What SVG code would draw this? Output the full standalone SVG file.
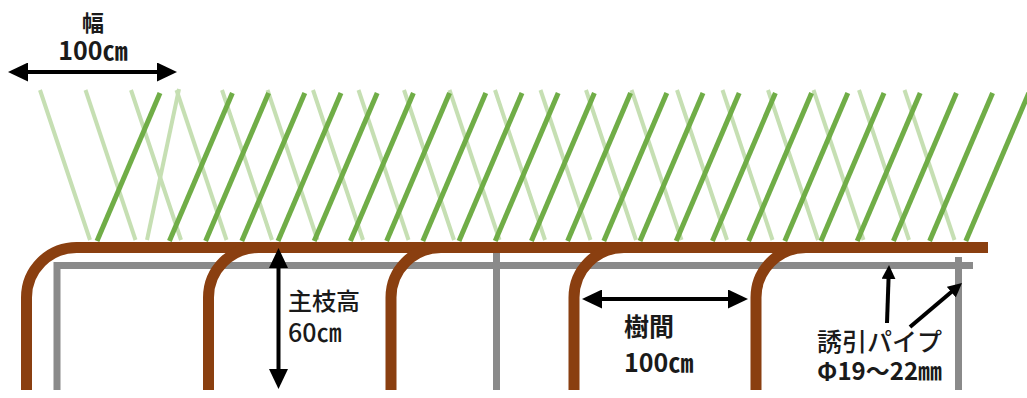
<svg xmlns="http://www.w3.org/2000/svg" width="1027" height="398" viewBox="0 0 1027 398">
  <style>
    .shoot-old { stroke: #c6dfb3; stroke-width: 4; fill: none; }
    .shoot { stroke: #70ad47; stroke-width: 5; fill: none; }
    .pipe { stroke: #8a8a8a; stroke-width: 7; fill: none; }
    .branch { stroke: #8a3f10; stroke-width: 11; fill: none; }
    .dim { stroke: #000; stroke-width: 4; fill: none; }
    .lbl { font-family: "Noto Sans CJK JP", "Noto Sans", sans-serif; fill: #1a1a1a; }
    .m { font-weight: 500; }
    .b { font-weight: bold; }
  </style>
  <defs>
    <marker id="head" viewBox="0 0 20 19" refX="2" refY="9.5" markerWidth="20" markerHeight="19" markerUnits="userSpaceOnUse" orient="auto-start-reverse">
      <path d="M0,0 L20,9.5 L0,19 Z" fill="#000"/>
    </marker>
    <marker id="head-s" viewBox="0 0 14 14" refX="2" refY="7" markerWidth="14" markerHeight="14" markerUnits="userSpaceOnUse" orient="auto">
      <path d="M0,0 L14,7 L0,14 Z" fill="#000"/>
    </marker>
  </defs>
  <rect width="1027" height="398" fill="#fff"/>

  <!-- last season's shoots (pale, leaning right) -->
  <g id="old-shoots" class="shoot-old">
    <line x1="40" y1="90" x2="90" y2="240"/>
    <line x1="85.5" y1="90" x2="135.5" y2="240"/>
    <line x1="131" y1="90" x2="181" y2="240"/>
    <line x1="179" y1="89" x2="147" y2="240"/>
    <line x1="176.5" y1="90" x2="226.5" y2="240"/>
    <line x1="222" y1="90" x2="272" y2="240"/>
    <line x1="267.5" y1="90" x2="317.5" y2="240"/>
    <line x1="313" y1="90" x2="363" y2="240"/>
    <line x1="358.5" y1="90" x2="408.5" y2="240"/>
    <line x1="404" y1="90" x2="454" y2="240"/>
    <line x1="449.5" y1="90" x2="499.5" y2="240"/>
    <line x1="495" y1="90" x2="545" y2="240"/>
    <line x1="540.5" y1="90" x2="590.5" y2="240"/>
    <line x1="586" y1="90" x2="636" y2="240"/>
    <line x1="631.5" y1="90" x2="681.5" y2="240"/>
    <line x1="677" y1="90" x2="727" y2="240"/>
    <line x1="722.5" y1="90" x2="772.5" y2="240"/>
    <line x1="768" y1="90" x2="818" y2="240"/>
    <line x1="813.5" y1="90" x2="863.5" y2="240"/>
    <line x1="859" y1="90" x2="909" y2="240"/>
    <line x1="904.5" y1="90" x2="954.5" y2="240"/>
  </g>

  <!-- trained shoots (leaning left) -->
  <g id="shoots" class="shoot">
    <line x1="160" y1="93" x2="97" y2="241"/>
    <line x1="232.4" y1="93" x2="169.4" y2="241"/>
    <line x1="268.6" y1="93" x2="205.6" y2="241"/>
    <line x1="304.8" y1="93" x2="241.8" y2="241"/>
    <line x1="341" y1="93" x2="278" y2="241"/>
    <line x1="377.2" y1="93" x2="314.2" y2="241"/>
    <line x1="413.4" y1="93" x2="350.4" y2="241"/>
    <line x1="449.6" y1="93" x2="386.6" y2="241"/>
    <line x1="485.8" y1="93" x2="422.8" y2="241"/>
    <line x1="522" y1="93" x2="459" y2="241"/>
    <line x1="558.2" y1="93" x2="495.2" y2="241"/>
    <line x1="594.4" y1="93" x2="531.4" y2="241"/>
    <line x1="630.6" y1="93" x2="567.6" y2="241"/>
    <line x1="666.8" y1="93" x2="603.8" y2="241"/>
    <line x1="703" y1="93" x2="640" y2="241"/>
    <line x1="739.2" y1="93" x2="676.2" y2="241"/>
    <line x1="775.4" y1="93" x2="712.4" y2="241"/>
    <line x1="811.6" y1="93" x2="748.6" y2="241"/>
    <line x1="847.8" y1="93" x2="784.8" y2="241"/>
    <line x1="884" y1="93" x2="821" y2="241"/>
    <line x1="920.2" y1="93" x2="857.2" y2="241"/>
    <line x1="956.4" y1="93" x2="893.4" y2="241"/>
    <line x1="992.6" y1="93" x2="929.6" y2="241"/>
    <line x1="1028.8" y1="93" x2="965.8" y2="241"/>
  </g>

  <!-- training pipe frame -->
  <g id="pipe" class="pipe">
    <path d="M57,390 V265.5 H973"/>
    <line x1="496.5" y1="250" x2="496.5" y2="390"/>
    <line x1="958.5" y1="257" x2="958.5" y2="390"/>
  </g>

  <!-- trunks and main branch -->
  <g id="trees" class="branch">
    <path d="M26.5,390 V297.5 A50,50 0 0 1 76.5,247.5 H988"/>
    <path d="M208.5,390 V297.5 A50,50 0 0 1 258.5,247.5"/>
    <path d="M391,390 V297.5 A50,50 0 0 1 441,247.5"/>
    <path d="M574,390 V297.5 A50,50 0 0 1 624,247.5"/>
    <path d="M756,390 V297.5 A50,50 0 0 1 806,247.5"/>
  </g>

  <!-- dimension arrows -->
  <g id="connectors" class="dim">
    <line x1="26" y1="72" x2="159" y2="72" marker-start="url(#head)" marker-end="url(#head)"/>
    <line x1="278.5" y1="266" x2="278.5" y2="371" marker-start="url(#head)" marker-end="url(#head)"/>
    <line x1="600" y1="299" x2="730" y2="299" marker-start="url(#head)" marker-end="url(#head)"/>
    <line x1="887" y1="323" x2="888.6" y2="277" marker-end="url(#head-s)"/>
    <line x1="910" y1="327" x2="952.8" y2="290.8" marker-end="url(#head-s)"/>
  </g>

  <!-- labels -->
  <g id="label-width" class="lbl b" text-anchor="middle">
    <text x="93" y="31" font-size="22">幅</text>
    <text x="93" y="60" font-size="25">100㎝</text>
  </g>
  <g id="label-height" class="lbl m">
    <text x="288" y="310" font-size="24">主枝高</text>
    <text x="288" y="342" font-size="25">60㎝</text>
  </g>
  <g id="label-spacing" class="lbl b">
    <text x="624" y="336" font-size="25">樹間</text>
    <text x="624" y="372" font-size="25">100㎝</text>
  </g>
  <g id="label-pipe" class="lbl">
    <text x="817" y="351" font-size="25" class="m">誘引パイプ</text>
    <text x="817" y="380" font-size="24" class="b">Φ19～22㎜</text>
  </g>
</svg>
